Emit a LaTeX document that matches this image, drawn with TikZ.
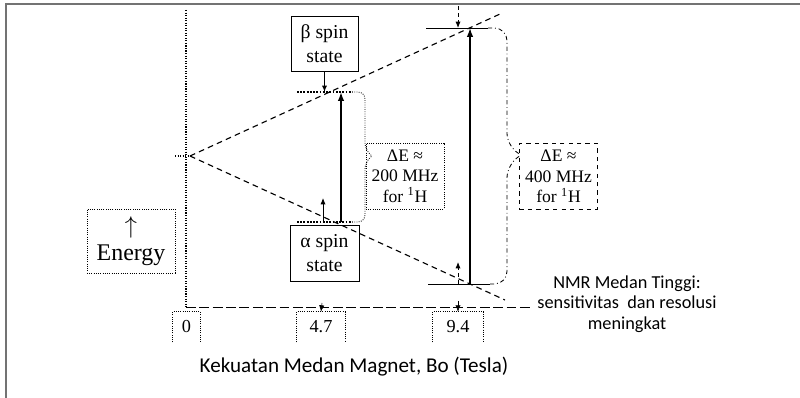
\documentclass[tikz,border=0pt]{standalone}
\usepackage{fontspec}
\setmainfont{Liberation Serif}
\newfontfamily\notefont{Carlito}
\usetikzlibrary{arrows.meta,positioning}

\begin{document}
\begin{tikzpicture}[x=0.025cm,y=-0.025cm]
\tikzset{
  statebox/.style={draw,semithick,align=center,inner sep=1pt,font=\fontsize{14}{17}\selectfont},
  deltabox/.style={draw,densely dotted,semithick,align=center,inner sep=1pt,minimum width=1.95cm,minimum height=1.65cm,font=\fontsize{12.5}{14.5}\selectfont},
  tickbox/.style={inner sep=0pt,minimum height=0.75cm,font=\fontsize{13}{14}\selectfont},
  level/.style={line width=1.3pt},
  split/.style={thick,dash pattern=on 4pt off 3pt},
  gap/.style={-{Latex[length=2.2mm,width=1.6mm]},line width=1.5pt},
  marker/.style={-{Latex[length=1.6mm,width=1.3mm]},semithick},
  bracket/.style={semithick,rounded corners=5pt},
  sanslabel/.style={font=\notefont\fontsize{13}{14.5}\selectfont,align=center}
}
\useasboundingbox (0,0) rectangle (800,398);
% frame
\coordinate (fbl) at (6,398);
\coordinate (ftl) at (6,4);
\coordinate (ftr) at (800,4);
\draw[black!55,line width=1.2pt] (fbl) -- (ftl) -- (ftr);

% axes
\coordinate (ytop) at (186,10);
\coordinate (corner) at (186,307);
\coordinate (xend) at (533,307);
\draw[densely dotted,thick] (ytop) -- (corner);
\draw[semithick,dash pattern=on 7pt off 2.5pt] (corner) -- (xend);
\coordinate (zero) at (190,156);
\coordinate (zerotick) at (175,156);
\draw[densely dotted,thick] (zerotick) -- (zero);

% splitting
\coordinate (upend) at (500,14);
\coordinate (downend) at (505,300);
\draw[split] (zero) -- (upend);
\draw[split] (zero) -- (downend);

% levels at 4.7 T
\coordinate (b47l) at (297,92);
\coordinate (b47r) at (352,92);
\coordinate (a47l) at (297,222);
\coordinate (a47r) at (352,222);
\draw[level,densely dotted] (b47l) -- (b47r);
\draw[level,densely dotted] (a47l) -- (a47r);

% levels at 9.4 T
\coordinate (b94l) at (426,28);
\coordinate (b94r) at (488,28);
\coordinate (a94l) at (428,284);
\coordinate (a94r) at (490,284);
\draw[semithick] (b94l) -- (b94r);
\draw[semithick] (a94l) -- (a94r);

% energy gaps
\coordinate (a47g) at (341,222);
\coordinate (b47g) at (341,92);
\coordinate (a94g) at (470,284);
\coordinate (b94g) at (470,28);
\draw[gap] (a47g) -- (b47g);
\draw[gap,line width=1pt] (a94g) -- (b94g);

% state boxes
\node[statebox,minimum width=1.675cm,minimum height=1.375cm] (beta) at (324.5,43.5) {β spin\\state};
\node[statebox,minimum width=1.725cm,minimum height=1.4cm] (alpha) at (324.5,253) {α spin\\state};
\coordinate (b47m) at (324.5,92);
\coordinate (a47m) at (323,222);
\coordinate (a47up) at (323,198);
\draw[marker,thick] (beta.south) -- (b47m);
\draw[marker] (a47m) -- (a47up);
\coordinate (b94top) at (458,6);
\coordinate (b94m) at (458,28);
\coordinate (a94m) at (458,284);
\coordinate (a94up) at (458,262);
\draw[marker,densely dashed] (b94top) -- (b94m);
\draw[marker,densely dashed] (a94m) -- (a94up);

% braces
\coordinate (tip47) at (372,156);
\coordinate (tip94) at (521,155);
\draw[bracket,densely dotted] (b47r) -- (365,92) -- (365,150) -- (tip47);
\draw[bracket,densely dotted] (a47r) -- (365,222) -- (365,162) -- (tip47);
\draw[bracket,dash dot,rounded corners=9pt] (b94r) -- (507,28) -- (507,146) -- (tip94);
\draw[bracket,dash dot,rounded corners=9pt] (a94r) -- (507,284) -- (507,165) -- (tip94);

\node[deltabox] (de47) at (405,176) {ΔE ≈\\200 MHz\\for \textsuperscript{1}H};
\node[deltabox,dashed] (de94) at (558.5,176.5) {ΔE ≈\\400 MHz\\for \textsuperscript{1}H};

% energy label
\node[draw,densely dotted,semithick,align=center,minimum width=2.2cm,minimum height=1.6cm,inner sep=1pt,font=\fontsize{17}{19}\selectfont] (energy) at (131,241) {$\uparrow$\\Energy};

% field values
\node[tickbox,minimum width=0.675cm] (t0) at (186.5,327) {0};
\node[tickbox,minimum width=1.2cm] (t47) at (321,327) {4.7};
\node[tickbox,minimum width=1.25cm] (t94) at (458,327) {9.4};
\foreach \t in {t0,t47,t94}
  \draw[densely dotted,semithick] (\t.south west) -- (\t.north west) -- (\t.north east) -- (\t.south east);
\coordinate (x47) at (322,303);
\coordinate (x94) at (458,301);
\draw[marker,thin] (x47) -- (t47.north);
\draw[marker,thin] (x94) -- (t94.north);

% notes
\node[sanslabel] (note) at (627,304) {NMR Medan Tinggi:\\sensitivitas\ \ dan resolusi\\meningkat};
\node[sanslabel,font=\notefont\fontsize{15}{17}\selectfont] (xlabel) at (354,367) {Kekuatan Medan Magnet, Bo (Tesla)};
\end{tikzpicture}
\end{document}
